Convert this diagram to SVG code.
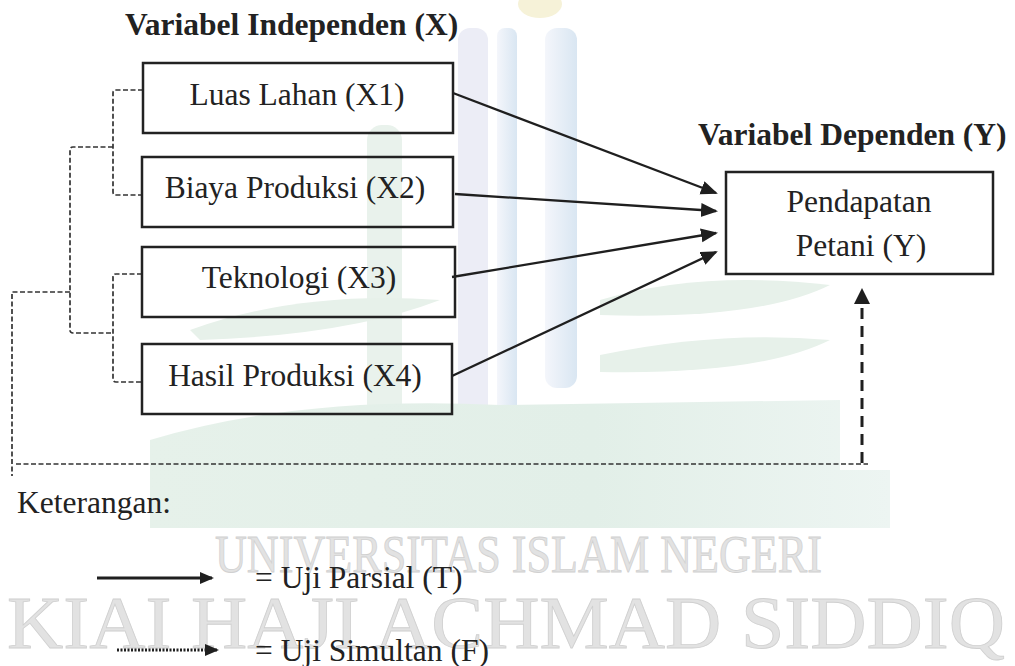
<svg xmlns="http://www.w3.org/2000/svg" width="1015" height="666" viewBox="0 0 1015 666">
<defs>
<style>
.t{font-family:"Liberation Serif","Times New Roman",serif;font-size:31.5px;fill:#222}
.b{font-weight:bold}
.box{fill:none;stroke:#222;stroke-width:2.5}
.solid{stroke:#1f1f1f;stroke-width:2.3;fill:none}
.dash{stroke:#333;stroke-width:1.7;fill:none;stroke-dasharray:5 2.5}
.wm{font-family:"Liberation Serif","Times New Roman",serif;fill:#e2e2e2;stroke:#d0d0d0;stroke-width:0.8}
</style>
<linearGradient id="band" x1="0" y1="0" x2="1" y2="0">
<stop offset="0" stop-color="#e6f1ea"/>
<stop offset="0.6" stop-color="#e2efe8"/>
<stop offset="1" stop-color="#edf5f2"/>
</linearGradient>
<linearGradient id="bar" x1="0" y1="0" x2="1" y2="0">
<stop offset="0" stop-color="#f4f6fb"/>
<stop offset="1" stop-color="#d9e6f2"/>
</linearGradient>
<marker id="ah" markerUnits="userSpaceOnUse" markerWidth="18" markerHeight="16" refX="15" refY="7" orient="auto"><path d="M0,0 L17,7 L0,14 Z" fill="#1f1f1f"/></marker>
<marker id="ahl" markerUnits="userSpaceOnUse" markerWidth="16" markerHeight="14" refX="12" refY="6" orient="auto"><path d="M0,0 L14,6 L0,12 Z" fill="#1f1f1f"/></marker>
</defs>
<rect width="1015" height="666" fill="#ffffff"/>
<g id="watermark">
<ellipse cx="540" cy="4" rx="22" ry="14" fill="#f6f2d8"/>
<rect x="458" y="28" width="30" height="400" rx="12" fill="#ecedf6"/>
<rect x="497" y="28" width="20" height="410" rx="8" fill="url(#bar)"/>
<rect x="545" y="28" width="32" height="360" rx="12" fill="url(#bar)"/>
<rect x="367" y="125" width="35" height="300" rx="15" fill="#e9f2ec"/>
<path d="M600,300 Q700,270 830,285 Q760,320 600,315 Z" fill="#e7f1ea"/>
<path d="M600,355 Q720,330 830,340 Q760,375 600,372 Z" fill="#e7f1ea"/>
<path d="M190,330 Q300,290 440,300 Q350,335 200,340 Z" fill="#e7f1ea"/>
<path d="M150,440 Q300,395 500,405 L840,400 L840,470 L890,470 L890,528 L150,528 Z" fill="url(#band)"/>
<text class="wm" x="215" y="572" font-size="52" textLength="607" lengthAdjust="spacingAndGlyphs">UNIVERSITAS ISLAM NEGERI</text>
<text class="wm" x="7" y="648" font-size="74" textLength="998" lengthAdjust="spacingAndGlyphs">KIAI HAJI ACHMAD SIDDIQ</text>
</g>
<g id="connectors">
<path class="dash" d="M143,90 H116 Q113,90 113,93 V192 Q113,195 116,195 H143"/>
<path class="dash" d="M142,274 H116 Q113,274 113,277 V379 Q113,382 116,382 H142"/>
<path class="dash" d="M113,147 H73 Q70,147 70,150 V330 Q70,333 73,333 H113"/>
<path class="dash" d="M70,292 H12 V476"/>
<path class="dash" d="M16,464 H868"/>
<line x1="862" y1="463" x2="862" y2="303" stroke="#1f1f1f" stroke-width="3" stroke-dasharray="11 7"/>
<path d="M862,288 L870,304 L854,304 Z" fill="#1f1f1f"/>
<line class="solid" x1="453" y1="93" x2="716" y2="193" marker-end="url(#ah)"/>
<line class="solid" x1="455" y1="194" x2="716" y2="211" marker-end="url(#ah)"/>
<line class="solid" x1="452" y1="277" x2="716" y2="233" marker-end="url(#ah)"/>
<line class="solid" x1="452" y1="376" x2="716" y2="252" marker-end="url(#ah)"/>
</g>
<g id="title-x"><text class="t b" x="125" y="35">Variabel Independen (X)</text></g>
<g id="title-y"><text class="t b" x="698" y="145">Variabel Dependen (Y)</text></g>
<g id="x1"><rect class="box" x="143" y="63" width="310" height="70"/><text class="t" x="297" y="105" text-anchor="middle">Luas Lahan (X1)</text></g>
<g id="x2"><rect class="box" x="142" y="157" width="311" height="70"/><text class="t" x="295" y="198" text-anchor="middle">Biaya Produksi (X2)</text></g>
<g id="x3"><rect class="box" x="142" y="247" width="313" height="70"/><text class="t" x="299" y="288" text-anchor="middle">Teknologi (X3)</text></g>
<g id="x4"><rect class="box" x="142" y="344" width="310" height="70"/><text class="t" x="295" y="386" text-anchor="middle">Hasil Produksi (X4)</text></g>
<g id="y"><rect class="box" x="726" y="172" width="267" height="102"/><text class="t" x="859" y="212" text-anchor="middle">Pendapatan</text><text class="t" x="861" y="256" text-anchor="middle">Petani (Y)</text></g>
<g id="legend">
<text class="t" x="17" y="513">Keterangan:</text>
<line x1="97" y1="578" x2="212" y2="578" stroke="#1f1f1f" stroke-width="3" marker-end="url(#ahl)"/>
<text class="t" x="255" y="588">= Uji Parsial (T)</text>
<line x1="117" y1="650" x2="217" y2="650" stroke="#1f1f1f" stroke-width="3" stroke-dasharray="2 1.5" marker-end="url(#ahl)"/>
<text class="t" x="255" y="661">= Uji Simultan (F)</text>
</g>
</svg>
